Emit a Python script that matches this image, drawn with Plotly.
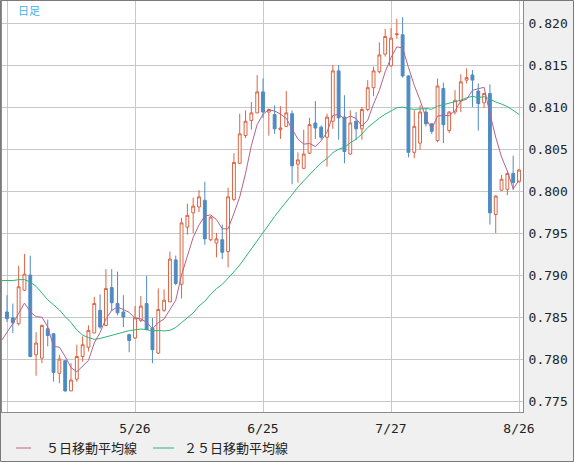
import numpy as np
import pandas as pd
import plotly.graph_objects as go

# daily OHLC, 89 sessions (oldest first)
open_ = [0.7856, 0.7849, 0.7842, 0.7882, 0.7900, 0.7805, 0.7801, 0.7836, 0.7830, 0.7783,
         0.7798, 0.7762, 0.7776, 0.7803, 0.7814, 0.7831, 0.7858, 0.7840, 0.7885, 0.7866,
         0.7856, 0.7829, 0.7825, 0.7846, 0.7866, 0.7837, 0.7807, 0.7858, 0.7868, 0.7918,
         0.7889, 0.7957, 0.7974, 0.7981, 0.7989, 0.7942, 0.7938, 0.7942, 0.7928, 0.7990,
         0.8033, 0.8066, 0.8084, 0.8093, 0.8118, 0.8094, 0.8091, 0.8073, 0.8077, 0.8092,
         0.8032, 0.8027, 0.8045, 0.8081, 0.8076, 0.8064, 0.8083, 0.8143, 0.8088, 0.8044,
         0.8083, 0.8074, 0.8097, 0.8123, 0.8142, 0.8163, 0.8149, 0.8186, 0.8186, 0.8137,
         0.8046, 0.8057, 0.8094, 0.8080, 0.8060, 0.8122, 0.8072, 0.8094, 0.8107, 0.8132,
         0.8138, 0.8119, 0.8105, 0.8116, 0.7972, 0.8001, 0.8002, 0.8021, 0.8011]
high = [0.7876, 0.7866, 0.7911, 0.7925, 0.7923, 0.7832, 0.7841, 0.7847, 0.7831, 0.7805,
        0.7798, 0.7795, 0.7817, 0.7827, 0.7840, 0.7874, 0.7877, 0.7907, 0.7907, 0.7904,
        0.7876, 0.7830, 0.7863, 0.7875, 0.7899, 0.7849, 0.7884, 0.7883, 0.7928, 0.7923,
        0.7968, 0.7985, 0.7992, 0.8001, 0.8011, 0.7970, 0.7950, 0.7960, 0.8004, 0.8045,
        0.8092, 0.8096, 0.8106, 0.8138, 0.8134, 0.8098, 0.8102, 0.8101, 0.8119, 0.8096,
        0.8046, 0.8073, 0.8087, 0.8107, 0.8078, 0.8092, 0.8150, 0.8150, 0.8114, 0.8096,
        0.8094, 0.8100, 0.8132, 0.8148, 0.8177, 0.8193, 0.8194, 0.8205, 0.8207, 0.8138,
        0.8096, 0.8102, 0.8098, 0.8081, 0.8134, 0.8129, 0.8095, 0.8120, 0.8139, 0.8146,
        0.8144, 0.8128, 0.8117, 0.8127, 0.7995, 0.8019, 0.8022, 0.8042, 0.8026]
low = [0.7844, 0.7831, 0.7840, 0.7881, 0.7802, 0.7780, 0.7795, 0.7815, 0.7773, 0.7771,
       0.7761, 0.7762, 0.7773, 0.7797, 0.7809, 0.7831, 0.7836, 0.7839, 0.7857, 0.7852,
       0.7838, 0.7808, 0.7824, 0.7844, 0.7835, 0.7795, 0.7806, 0.7856, 0.7868, 0.7888,
       0.7872, 0.7948, 0.7950, 0.7975, 0.7936, 0.7940, 0.7921, 0.7919, 0.7909, 0.7988,
       0.8032, 0.8063, 0.8073, 0.8093, 0.8087, 0.8066, 0.8068, 0.8062, 0.8076, 0.8008,
       0.8010, 0.8026, 0.8044, 0.8062, 0.8061, 0.8029, 0.8074, 0.8061, 0.8033, 0.8043,
       0.8061, 0.8061, 0.8095, 0.8113, 0.8140, 0.8160, 0.8148, 0.8181, 0.8135, 0.8040,
       0.8039, 0.8049, 0.8077, 0.8068, 0.8058, 0.8057, 0.8069, 0.8091, 0.8094, 0.8128,
       0.8100, 0.8072, 0.8099, 0.7960, 0.7950, 0.8000, 0.7995, 0.8001, 0.8010]
close = [0.7848, 0.7843, 0.7886, 0.7901, 0.7803, 0.7819, 0.7840, 0.7828, 0.7784, 0.7800,
         0.7762, 0.7775, 0.7803, 0.7817, 0.7834, 0.7866, 0.7838, 0.7884, 0.7867, 0.7855,
         0.7850, 0.7822, 0.7849, 0.7863, 0.7835, 0.7811, 0.7859, 0.7870, 0.7919, 0.7890,
         0.7962, 0.7971, 0.7982, 0.7993, 0.7943, 0.7969, 0.7943, 0.7927, 0.7993, 0.8034,
         0.8068, 0.8083, 0.8093, 0.8118, 0.8094, 0.8097, 0.8074, 0.8075, 0.8093, 0.8030,
         0.8037, 0.8044, 0.8079, 0.8075, 0.8064, 0.8088, 0.8143, 0.8087, 0.8047, 0.8081,
         0.8074, 0.8097, 0.8123, 0.8143, 0.8162, 0.8184, 0.8182, 0.8187, 0.8137, 0.8046,
         0.8077, 0.8094, 0.8080, 0.8071, 0.8125, 0.8079, 0.8094, 0.8108, 0.8130, 0.8135,
         0.8132, 0.8104, 0.8116, 0.7974, 0.7994, 0.8014, 0.8021, 0.8010, 0.8025]

# closes of the sessions before the window (only feed the moving averages)
prior_close = [0.7848, 0.7843, 0.7860, 0.7899, 0.7878, 0.7944, 0.8041, 0.8028, 0.7934, 0.7950,
               0.7962, 0.7950, 0.8028, 0.7967, 0.7910, 0.7916, 0.7814, 0.7834, 0.7817, 0.7805,
               0.7800, 0.7788, 0.7825, 0.7839, 0.7855]

tick_pos = [0, 22, 44, 66, 88]
tick_labels = ["", "5/26", "6/25", "7/27", "8/26"]

RED = "#dc6442"
BLUE = "#4f8bc3"
MA5_COLOR = "#b4628e"
MA25_COLOR = "#2db573"

W, H = 574, 462
ML, MR, MT, MB = 2, 51, 1, 50
PW, PH = W - ML - MR, H - MT - MB


def px_x(x):
    return (x - ML) / PW


def px_y(y):
    return 1 - (y - MT) / PH


n = len(close)
idx = np.arange(n)

allc = pd.Series(prior_close + close, index=np.arange(-len(prior_close), n))
ma5 = allc.rolling(5).mean().loc[-1:]
ma25 = allc.rolling(25).mean().loc[-1:]

fig = go.Figure()
fig.add_trace(go.Candlestick(
    x=idx, open=open_, high=high, low=low, close=close,
    increasing=dict(fillcolor="white", line=dict(color=RED, width=1)),
    decreasing=dict(fillcolor=BLUE, line=dict(color=BLUE, width=1)),
    whiskerwidth=0, showlegend=False, hoverinfo="skip",
))
fig.add_trace(go.Scatter(x=ma25.index, y=ma25.values, mode="lines",
                         line=dict(color=MA25_COLOR, width=1), showlegend=False))
fig.add_trace(go.Scatter(x=ma5.index, y=ma5.values, mode="lines",
                         line=dict(color=MA5_COLOR, width=1), showlegend=False))

# pixel scale: index 0 at x=7, index 88 at x=519; 0.820 at y=23, 8400 px per unit
xspan = 88 * PW / 512
x0 = -5 * xspan / PW
ytop = 0.820 + 22 / 8400
ybot = ytop - PH / 8400

fig.update_layout(
    width=W, height=H,
    margin=dict(l=ML, r=MR, t=MT, b=MB),
    paper_bgcolor="#f0f0f0", plot_bgcolor="white",
    xaxis=dict(range=[x0, x0 + xspan], tickvals=tick_pos, ticktext=tick_labels,
               showgrid=True, gridcolor="#c8c8c8", gridwidth=1, zeroline=False,
               rangeslider=dict(visible=False), showline=True, mirror=True,
               linecolor="#8c8c8c", linewidth=1, ticks="outside", ticklen=4,
               tickcolor="rgba(0,0,0,0)",
               tickfont=dict(family="DejaVu Sans Mono", size=13, color="#222")),
    yaxis=dict(range=[ybot, ytop], side="right", tick0=0.775, dtick=0.005,
               tickformat=".3f", showgrid=True, gridcolor="#c8c8c8", gridwidth=1,
               zeroline=False, showline=True, mirror=True, linecolor="#8c8c8c",
               linewidth=1, ticks="", ticklabelstandoff=2,
               tickfont=dict(family="DejaVu Sans Mono", size=13, color="#222")),
    font=dict(family="Noto Sans CJK JP"),
    showlegend=False,
)

# hand-drawn legend
leg_y = px_y(448)
fig.add_shape(type="line", xref="paper", yref="paper", x0=px_x(16), x1=px_x(31),
              y0=leg_y, y1=leg_y, line=dict(color=MA5_COLOR, width=1))
fig.add_shape(type="line", xref="paper", yref="paper", x0=px_x(153), x1=px_x(174),
              y0=leg_y, y1=leg_y, line=dict(color=MA25_COLOR, width=1))
fig.add_annotation(xref="paper", yref="paper", x=px_x(44), y=leg_y, xanchor="left",
                   yanchor="middle", showarrow=False, text="５日移動平均線",
                   font=dict(family="Noto Sans CJK JP", size=13, color="#222"))
fig.add_annotation(xref="paper", yref="paper", x=px_x(182), y=leg_y, xanchor="left",
                   yanchor="middle", showarrow=False, text="２５日移動平均線",
                   font=dict(family="Noto Sans CJK JP", size=13, color="#222"))
fig.add_annotation(xref="paper", yref="paper", x=px_x(16), y=px_y(10), xanchor="left",
                   yanchor="middle", showarrow=False, text="日足",
                   font=dict(family="Noto Sans CJK JP", size=11, color="#3cb4e6"))

# outer frame
fig.add_shape(type="rect", xref="paper", yref="paper", x0=px_x(0.5), x1=px_x(573.5),
              y0=px_y(461.5), y1=px_y(0.5), line=dict(color="#7a7a7a", width=1))

# drop the browser's default body margin so the figure sits at the page corner
fig.write_html("out.html", config={"displayModeBar": False},
               post_script="document.body.style.margin = '0';")
